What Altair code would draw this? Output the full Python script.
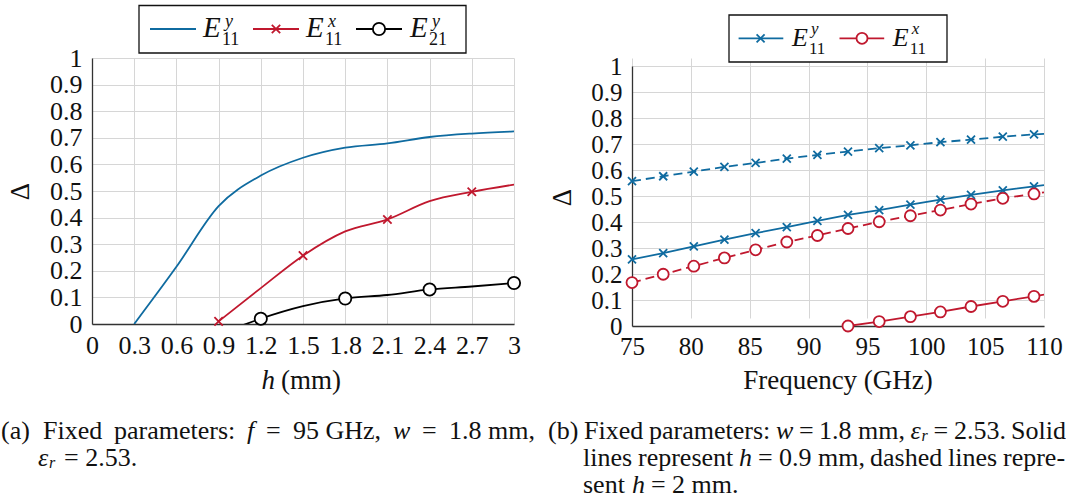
import altair as alt
import pandas as pd

FONT = "'Liberation Serif', 'Times New Roman', 'DejaVu Serif', serif"
BLUE = "#0f6ba0"
RED = "#c0182e"
BLACK = "#000000"
INK = "#111111"

# ---------------- (a) Δ versus substrate height h (f = 95 GHz)
h_ey11 = [0.3, 0.6, 0.9, 1.2, 1.5, 1.8, 2.1, 2.4, 2.7, 3.0]
d_ey11 = [0.0, 0.215, 0.443, 0.558, 0.625, 0.663, 0.679, 0.703, 0.716, 0.724]
h_ex11 = [0.9, 1.2, 1.5, 1.8, 2.1, 2.4, 2.7, 3.0]
d_ex11 = [0.01, 0.135, 0.257, 0.348, 0.393, 0.462, 0.497, 0.524]
h_ey21 = [0.9, 1.2, 1.5, 1.8, 2.1, 2.4, 2.7, 3.0]
d_ey21 = [-0.04, 0.02, 0.067, 0.096, 0.109, 0.130, 0.141, 0.154]
h_ticks = [0, 0.3, 0.6, 0.9, 1.2, 1.5, 1.8, 2.1, 2.4, 2.7, 3]
delta_ticks = [0, 0.1, 0.2, 0.3, 0.4, 0.5, 0.6, 0.7, 0.8, 0.9, 1]

# ---------------- (b) Δ versus frequency (w = 1.8 mm)
freq_ghz = [75.0, 77.65, 80.25, 82.85, 85.5, 88.15, 90.75, 93.35, 96.0,
            98.65, 101.2, 103.8, 106.5, 109.15, 110.0]
d_ey11_h09 = [0.256, 0.280, 0.306, 0.332, 0.357, 0.380, 0.404, 0.427, 0.446,
              0.467, 0.486, 0.504, 0.522, 0.537, 0.542]
d_ey11_h2 = [0.557, 0.576, 0.594, 0.612, 0.627, 0.644, 0.658, 0.671, 0.684,
             0.695, 0.707, 0.717, 0.728, 0.737, 0.739]
d_ex11_h2 = [0.167, 0.199, 0.230, 0.262, 0.293, 0.323, 0.348, 0.375, 0.401,
             0.424, 0.446, 0.469, 0.491, 0.508, 0.514]
d_ex11_h09 = [None, None, None, None, None, None, None, 0.0, 0.017,
              0.036, 0.054, 0.075, 0.095, 0.114, 0.121]
freq_ticks = [75, 80, 85, 90, 95, 100, 105, 110]

CROSS = "M-1,-1L1,1M-1,1L1,-1"
CAP = 26  # caption font size


def frame(xs, ys, marked):
    rows = []
    for i, (x, y) in enumerate(zip(xs, ys)):
        if y is None:
            continue
        rows.append({"x": x, "y": y, "m": bool(marked(i))})
    return pd.DataFrame(rows)


def axis(values, size, pad, title=None, **kw):
    opts = dict(values=values, format="~g", labelFont=FONT, labelFontSize=size,
                labelColor=INK, labelPadding=pad, labelFlush=False,
                labelOverlap=False, ticks=False, grid=True, gridColor="#d6d6d6",
                gridWidth=1, domainColor="#333333", domainWidth=1.3)
    if title is not None:
        opts.update(title=title, titleFont=FONT, titleFontWeight="normal",
                    titleColor=INK, **kw)
    else:
        opts.update(title=None)
    return alt.Axis(**opts)


def series(df, X, Y, color, dash=None, shape=None, size=64, interp="linear"):
    line_kw = dict(color=color, strokeWidth=1.8, interpolate=interp, clip=True)
    if dash:
        line_kw["strokeDash"] = dash
    layers = [alt.Chart(df).mark_line(**line_kw).encode(x=X, y=Y)]
    if shape:
        pts = df[df["m"]]
        pkw = dict(shape=shape, size=size, stroke=color, strokeWidth=1.8, opacity=1)
        if shape == "circle":
            pkw.update(filled=True, fill="white")
        else:
            pkw.update(filled=False)
        layers.append(alt.Chart(pts).mark_point(**pkw).encode(x=X, y=Y))
    return layers


def one():
    return alt.Chart(alt.Data(values=[{}]))


def txt(s, x, y, size, italic=False, align="left", color=INK):
    return one().mark_text(
        font=FONT, fontSize=size, fontStyle="italic" if italic else "normal",
        align=align, baseline="alphabetic", color=color
    ).encode(x=alt.value(x), y=alt.value(y), text=alt.value(s))


def caption_line(words, y):
    """words: (text, x, style); style 'sub' draws a small italic subscript."""
    out = []
    for s, x, style in words:
        if style == "sub":
            out.append(txt(s, x, y + 2, 16, italic=True))
        else:
            out.append(txt(s, x, y, CAP, italic=(style == "it")))
    return out


def box(x0, x1, y0, y1):
    return one().mark_rect(fill="white", stroke=INK, strokeWidth=1.3).encode(
        x=alt.value(x0), x2=alt.value(x1), y=alt.value(y0), y2=alt.value(y1))


def key_line(x0, x1, y, color):
    return one().mark_rule(color=color, strokeWidth=1.8).encode(
        x=alt.value(x0), x2=alt.value(x1), y=alt.value(y))


def key_mark(x, y, color, shape, size):
    kw = dict(shape=shape, size=size, stroke=color, strokeWidth=1.8, opacity=1)
    if shape == "circle":
        kw.update(filled=True, fill="white")
    else:
        kw.update(filled=False)
    return one().mark_point(**kw).encode(x=alt.value(x), y=alt.value(y))


def mode_label(x, base, sup, sub, e_size, s_size, sup_dx, sub_dx, sup_dy, sub_dy):
    return [txt("E", x, base, e_size, italic=True),
            txt(sup, x + sup_dx, base + sup_dy, s_size, italic=True),
            txt(sub, x + sub_dx, base + sub_dy, s_size)]


# ================= panel (a)
WA, HA = 422, 266
Xa = alt.X("x:Q", scale=alt.Scale(domain=[0, 3], nice=False, zero=False),
           axis=axis(h_ticks, 26, 8))
Ya = alt.Y("y:Q", scale=alt.Scale(domain=[0, 1], nice=False, zero=False),
           axis=axis(delta_ticks, 26, 10, title="Δ", titleFontSize=27,
                     titleAngle=270, titleX=-72, titleY=133, titleAlign="center",
                     titleBaseline="middle"))

a_layers = []
a_layers += series(frame(h_ey11, d_ey11, lambda i: False), Xa, Ya, BLUE,
                   interp="monotone")
a_layers += series(frame(h_ex11, d_ex11, lambda i: i % 2 == 0), Xa, Ya, RED,
                   shape=CROSS, size=70, interp="monotone")
a_layers += series(frame(h_ey21, d_ey21, lambda i: i % 2 == 1), Xa, Ya, BLACK,
                   shape="circle", size=150, interp="monotone")

# legend (a)
a_layers += [box(47, 374, -52.5, -5)]
a_layers += [key_line(58, 104, -29, BLUE)]
a_layers += mode_label(111, -21, "y", "11", 29, 18, 22, 19, -10, 8)
a_layers += [key_line(161, 207, -29, RED), key_mark(184, -29, RED, CROSS, 70)]
a_layers += mode_label(214, -21, "x", "11", 29, 18, 22, 19, -10, 8)
a_layers += [key_line(264, 310, -29, BLACK), key_mark(287, -29, BLACK, "circle", 150)]
a_layers += mode_label(318, -21, "y", "21", 29, 18, 22, 19, -10, 8)

# x title (a)
a_layers += [txt("h", 183, 331, 27, italic=True, align="right"),
             txt("(mm)", 189, 331, 27)]

# caption (a), first line justified
a_layers += caption_line([("(a)", -91, "rm"), ("Fixed", -49, "rm"),
                          ("parameters:", 22, "rm"), ("f", 155, "it"),
                          ("=", 174, "rm"), ("95 GHz,", 201, "rm"),
                          ("w", 301, "it"), ("=", 330, "rm"),
                          ("1.8 mm,", 357, "rm")], 381)
a_layers += caption_line([("ε", -54, "it"), ("r", -43, "sub"),
                          ("= 2.53.", -28, "rm")], 408)

panel_a = alt.layer(*a_layers).properties(width=WA, height=HA)

# ================= panel (b)
WB, HB = 412, 268
Xb = alt.X("x:Q", scale=alt.Scale(domain=[75, 110], nice=False, zero=False),
           axis=axis(freq_ticks, 25, 8))
Yb = alt.Y("y:Q", scale=alt.Scale(domain=[0, 1], nice=False, zero=False,
                                  range=[HB, 8]),
           axis=axis(delta_ticks, 25, 10, title="Δ", titleFontSize=27,
                     titleAngle=270, titleX=-70, titleY=139, titleAlign="center",
                     titleBaseline="middle"))

last = len(freq_ghz) - 1
b_layers = []
b_layers += series(frame(freq_ghz, d_ey11_h2, lambda i: i < last), Xb, Yb, BLUE,
                   dash=[9, 5], shape=CROSS, size=64)
b_layers += series(frame(freq_ghz, d_ey11_h09, lambda i: i < last), Xb, Yb, BLUE,
                   shape=CROSS, size=64)
b_layers += series(frame(freq_ghz, d_ex11_h2, lambda i: i < last), Xb, Yb, RED,
                   dash=[9, 5], shape="circle", size=121)
b_layers += series(frame(freq_ghz, d_ex11_h09, lambda i: i < last), Xb, Yb, RED,
                   shape="circle", size=121)

# legend (b)
b_layers += [box(97, 315, -43, 4)]
b_layers += [key_line(106.6, 151.3, -19.7, BLUE), key_mark(128.6, -19.7, BLUE, CROSS, 64)]
b_layers += mode_label(160, -12, "y", "11", 26, 17, 19, 17, -12, 8)
b_layers += [key_line(207.5, 252.2, -19.7, RED), key_mark(230, -19.7, RED, "circle", 121)]
b_layers += mode_label(260.7, -12, "x", "11", 26, 17, 19, 17, -12, 8)

# x title (b)
b_layers += [txt("Frequency (GHz)", 206, 331, 27, align="center")]

# caption (b)
b_layers += caption_line([("(b)", -84, "rm"), ("Fixed", -48, "rm"),
                          ("parameters:", 17, "rm"), ("w", 144, "it"),
                          ("=", 167, "rm"), ("1.8 mm,", 187, "rm"),
                          ("ε", 278.5, "it"), ("r", 289.5, "sub"),
                          ("=", 301.5, "rm"), ("2.53.", 322, "rm"),
                          ("Solid", 379, "rm")], 381)
b_layers += caption_line([("lines", -49, "rm"), ("represent", 6, "rm"),
                          ("h", 107, "it"), ("=", 126, "rm"),
                          ("0.9 mm,", 147, "rm"), ("dashed", 238, "rm"),
                          ("lines", 316, "rm"), ("repre-", 371, "rm")], 408)
b_layers += caption_line([("sent", -49, "rm"), ("h", 0, "it"),
                          ("=", 19, "rm"), ("2 mm.", 40, "rm")], 435)

panel_b = alt.layer(*b_layers).properties(width=WB, height=HB)

chart = alt.hconcat(panel_a, panel_b, spacing=118, bounds="flush").properties(
    padding={"left": 1, "top": 4, "right": 0, "bottom": 0},
    background="white",
).configure_view(stroke=None)

chart.save("out.html", embed_options={"renderer": "svg", "actions": False})
